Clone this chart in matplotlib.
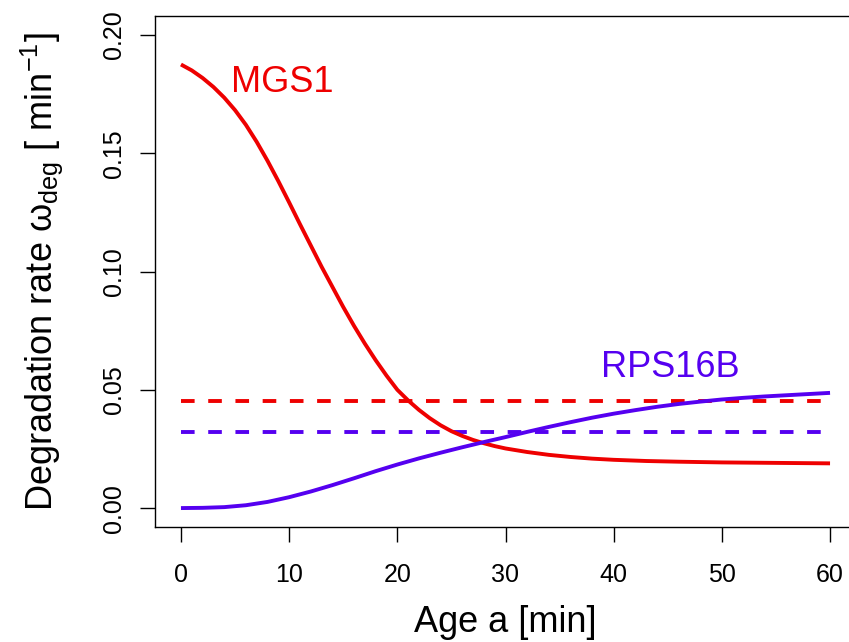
import numpy as np
import matplotlib
matplotlib.use('Agg')
import matplotlib.pyplot as plt

plt.rcParams['font.family'] = ['Liberation Sans', 'DejaVu Sans']
plt.rcParams['mathtext.fontset'] = 'custom'
plt.rcParams['mathtext.rm'] = 'Liberation Sans'
plt.rcParams['mathtext.it'] = 'Liberation Sans'

# age-dependent degradation rates (per min)
age_mgs1 = [0, 1, 2, 3, 4, 5, 6, 7, 8, 9, 10, 11, 12, 13, 14, 15, 16, 17, 18, 19, 20,
            21, 22, 23, 24, 25, 26, 27, 28, 29, 30, 32, 34, 36, 38, 40, 43, 46, 50, 55, 60]
rate_mgs1 = [0.1875, 0.1850, 0.1818, 0.1780, 0.1735, 0.1682, 0.1620, 0.1548, 0.1468, 0.1382,
             0.1292, 0.1200, 0.1110, 0.1020, 0.0935, 0.0850, 0.0770, 0.0695, 0.0625, 0.0560,
             0.0500, 0.0455, 0.0415, 0.0380, 0.0350, 0.0325, 0.0305, 0.0288, 0.0274, 0.0262,
             0.0252, 0.0237, 0.0225, 0.0216, 0.0209, 0.0204, 0.0199, 0.0196, 0.0193, 0.0191, 0.0189]

age_rps16b = [0, 2, 4, 6, 8, 10, 12, 14, 16, 18, 20, 22, 24, 26, 28, 30,
              32, 34, 36, 38, 40, 42, 44, 46, 48, 50, 52, 54, 56, 58, 60]
rate_rps16b = [0.0, 0.0001, 0.0004, 0.0012, 0.0026, 0.0046, 0.0070, 0.0097, 0.0126, 0.0156,
               0.0184, 0.0210, 0.0234, 0.0257, 0.0279, 0.0300, 0.0322, 0.0343, 0.0363, 0.0382,
               0.0399, 0.0414, 0.0428, 0.0440, 0.0450, 0.0459, 0.0466, 0.0472, 0.0477, 0.0482, 0.0487]

# constant (age-independent) rates
const_mgs1 = 0.0452
const_rps16b = 0.0323
const_span = [0, 60]

red = '#ee0000'
blue = '#5500f0'

plt.figure(figsize=(8.49, 6.42), dpi=100)
ax = plt.axes([155/849, 115/642, 701/849, 511/642])

ax.plot(const_span, [const_mgs1, const_mgs1], color=red, lw=2.8, linestyle=(0, (3.5, 3.5)))
ax.plot(const_span, [const_rps16b, const_rps16b], color=blue, lw=2.8, linestyle=(0, (3.5, 3.5)))
ax.plot(age_mgs1, rate_mgs1, color=red, lw=2.8, solid_capstyle='butt', solid_joinstyle='round')
ax.plot(age_rps16b, rate_rps16b, color=blue, lw=2.8, solid_capstyle='butt', solid_joinstyle='round')

ax.text(9.4, 0.180, 'MGS1', color=red, fontsize=26, ha='center', va='center')
ax.text(45.2, 0.0596, 'RPS16B', color=blue, fontsize=26, ha='center', va='center')

ax.set_xlim(-2.4, 62.4)
ax.set_ylim(-0.008, 0.208)
ax.set_xticks([0, 10, 20, 30, 40, 50, 60])
ax.set_yticks([0, 0.05, 0.10, 0.15, 0.20])
ax.set_yticklabels(['0.00', '0.05', '0.10', '0.15', '0.20'], rotation=90, va='center')
ax.tick_params(axis='both', direction='out', length=10.8, width=1, labelsize=18)
ax.tick_params(axis='x', pad=15)
ax.tick_params(axis='y', pad=10)
for s in ax.spines.values():
	s.set_linewidth(1)

ax.set_xlabel('Age a [min]', fontsize=26, va='center')
ax.xaxis.set_label_coords(0.5, -0.186)
ax.set_ylabel(r'Degradation rate $\omega_{\mathrm{deg}}$ [ min$^{-1}$]', fontsize=26, va='center')
ax.yaxis.set_label_coords(-0.161, 0.5)

plt.savefig('out.png', dpi=100)
